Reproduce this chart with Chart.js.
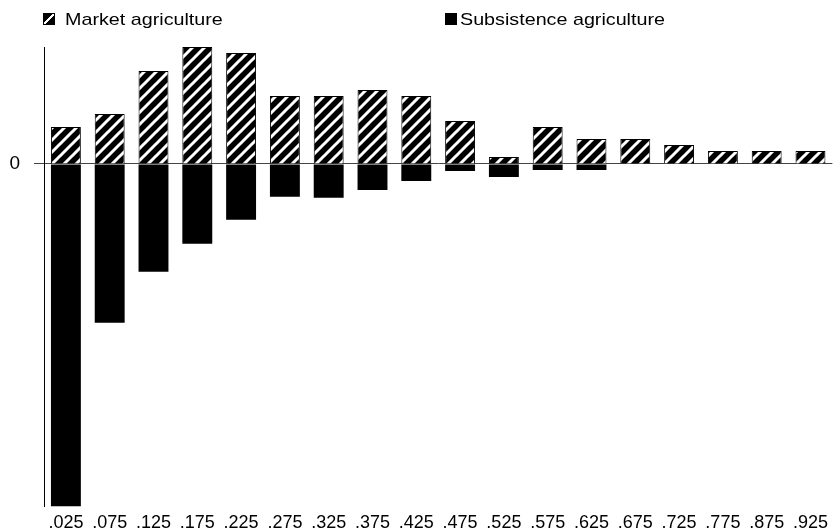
<!DOCTYPE html>
<html>
<head>
<meta charset="utf-8">
<script src="https://cdn.jsdelivr.net/npm/chart.js@4.4.1/dist/chart.umd.min.js"></script>
<style>
  body { margin: 0; background: #fff; }
  #wrap { position: relative; width: 834px; height: 532px; }
  .key { position: absolute; top: 13px; width: 12px; height: 12px; box-sizing: border-box; border: 1px solid #000; }
  .key.market { left: 43px; background: linear-gradient(to bottom right, #000 44%, #fff 44%, #fff 58%, #000 58%); }
  .key.subs { left: 445px; background: #000; }
  .lbl { position: absolute; top: 11px; font: 17px "Liberation Sans", Arial, sans-serif; line-height: 17px;
         color: #000; transform: scaleX(1.16); transform-origin: left top; white-space: nowrap; }
</style>
</head>
<body>
<div id="wrap">
  <canvas id="myChart" width="834" height="532"></canvas>
  <div class="key market"></div><div class="lbl" style="left:65px">Market agriculture</div>
  <div class="key subs"></div><div class="lbl" style="left:460px">Subsistence agriculture</div>
</div>
<script>
// categories as printed under the bars (.825 is not shown in the source)
const categories = ['.025', '.075', '.125', '.175', '.225', '.275', '.325', '.375', '.425',
                    '.475', '.525', '.575', '.625', '.675', '.725', '.775', '.875', '.925'];
// values, arbitrary units (no scale printed except 0)
const marketValues = [37, 50, 93, 117, 111, 68, 68, 74, 68, 43, 7, 37, 25, 25, 19, 13, 13, 13];
const subsistenceValues = [-343, -159, -108, -80, -56, -33, -34, -26, -17, -7, -13, -6, -6, 0, 0, 0, 0, 0];
const yTicks = [0];

function makeHatch()
{
    const s = 12;
    const c = document.createElement('canvas');
    c.width = s;
    c.height = s;
    const g = c.getContext('2d');
    g.fillStyle = '#000';
    g.fillRect(0, 0, s, s);
    g.strokeStyle = '#fff';
    g.lineWidth = 3;
    g.beginPath();
    g.moveTo(0, s); g.lineTo(s, 0);
    g.moveTo(-2, 2); g.lineTo(2, -2);
    g.moveTo(s - 2, s + 2); g.lineTo(s + 2, s - 2);
    g.stroke();
    return g.createPattern(c, 'repeat');
}

const hatch = makeHatch();

new Chart('myChart', {
    type: 'bar',
    data: {
        labels: categories,
        datasets: [{
            label: 'Market agriculture',
            data: marketValues,
            backgroundColor: hatch,
            borderColor: '#000',
            borderWidth: 1
        }, {
            label: 'Subsistence agriculture',
            data: subsistenceValues,
            backgroundColor: '#000',
            borderColor: '#000',
            borderWidth: 0
        }]
    },
    options: {
        responsive: false,
        animation: false,
        layout: { padding: { top: 47, left: 0, right: 0, bottom: 0 } },
        datasets: { bar: { barPercentage: 0.683, categoryPercentage: 1 } },
        plugins: {
            legend: { display: false },
            tooltip: { enabled: false }
        },
        scales: {
            x: {
                stacked: true,
                grid: { display: false, drawTicks: false },
                border: { display: false },
                ticks: {
                    color: '#000',
                    padding: 6,
                    autoSkip: false,
                    maxRotation: 0,
                    font: { family: '"Liberation Sans", Arial, sans-serif', size: 18 }
                },
                afterFit: (scale) => { scale.height = 25; }
            },
            y: {
                stacked: true,
                min: -343,
                max: 117,
                afterBuildTicks: (scale) => { scale.ticks = yTicks.map(v => ({ value: v })); },
                afterFit: (scale) => { scale.width = 44; },
                grid: { color: '#444', lineWidth: 1, tickLength: 10 },
                border: { display: true, color: '#000', width: 1 },
                ticks: {
                    color: '#000',
                    padding: 14,
                    font: { family: '"Liberation Sans", Arial, sans-serif', size: 19 }
                }
            }
        }
    }
});
</script>
</body>
</html>
